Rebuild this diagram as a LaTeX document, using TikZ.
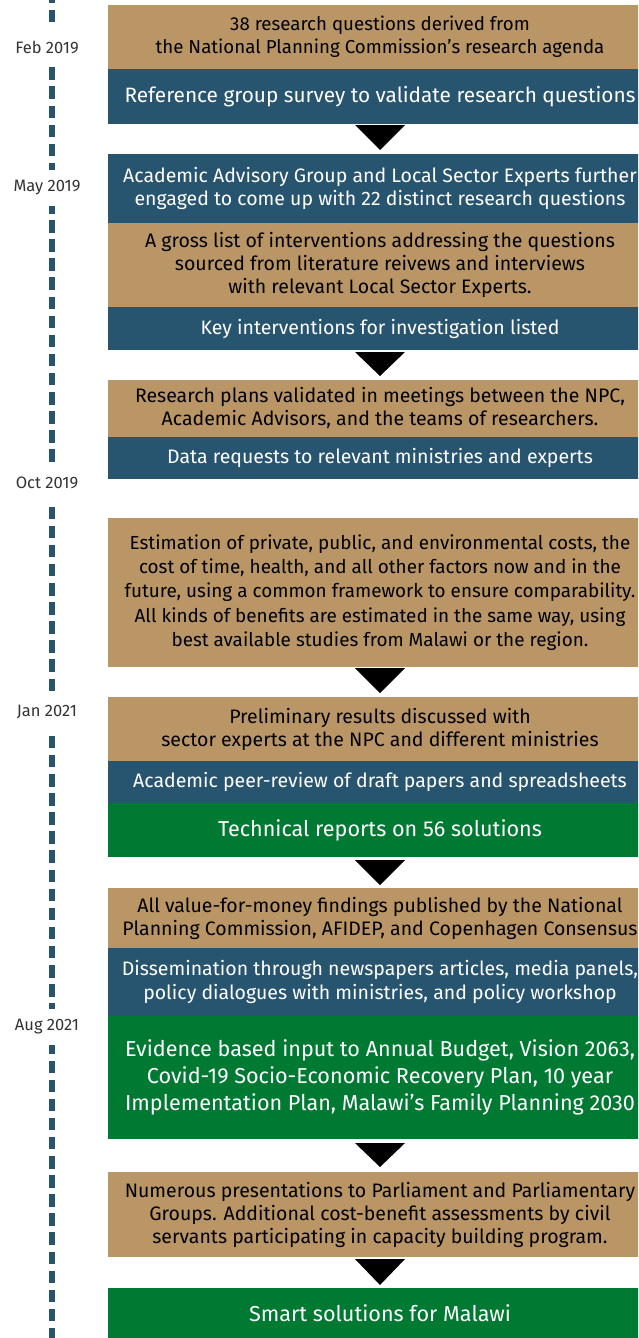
\documentclass[tikz,border=0pt]{standalone}
\usepackage{fontspec}
\setmainfont{Fira Sans}
\usetikzlibrary{calc}
\definecolor{tanc}{RGB}{186,150,102}
\definecolor{bluec}{RGB}{39,84,111}
\definecolor{greenc}{RGB}{0,122,51}
\definecolor{datec}{RGB}{51,51,51}
\begin{document}
\begin{tikzpicture}[x=1pt,y=-1pt,
  band/.style={anchor=north west, minimum width=544pt, inner sep=0pt, outer sep=0pt, align=center},
  tanbox/.style={band, fill=tanc, text=black, font=\fontsize{19.5}{23}\selectfont},
  bluebox/.style={band, fill=bluec, text=white, font=\fontsize{19.5}{22.5}\selectfont},
  greenbox/.style={band, fill=greenc, text=white, font=\fontsize{21.6}{27}\selectfont},
  datelbl/.style={fill=white, text=datec, font=\fontsize{16.5}{18}\selectfont, minimum height=36pt, inner xsep=1pt, inner ysep=0pt},
  timeline/.style={draw=bluec, line width=6pt, dash pattern=on 12.5pt off 6.6pt},
  tri/.style={fill=black}
]
\useasboundingbox (0,0) rectangle (638,1338);
\clip (0,0) rectangle (638,1338);

% timeline
\coordinate (tltop) at (52,-9.1);
\coordinate (tlbot) at (52,1350);
\draw[timeline] (tltop) -- (tlbot);

% boxes
\node[tanbox, minimum height=64pt, font=\fontsize{18.7}{23}\selectfont] (t1) at (108,5) {38 research questions derived from\\the National Planning Commission’s research agenda};
\node[bluebox, minimum height=55pt, font=\fontsize{20.8}{24}\selectfont] (b1) at (108,69) {Reference group survey to validate research questions};

\node[bluebox, minimum height=69pt, font=\fontsize{19.5}{22.5}\selectfont] (b2) at (108,154) {Academic Advisory Group and Local Sector Experts further\\engaged to come up with 22 distinct research questions};
\node[tanbox, minimum height=84pt] (t2) at (108,223) {A gross list of interventions addressing the questions\\sourced from literature reivews and interviews\\with relevant Local Sector Experts.};
\node[bluebox, minimum height=43pt] (b3) at (108,307) {Key interventions for investigation listed};

\node[tanbox, minimum height=57pt] (t3) at (108,380) {Research plans validated in meetings between the NPC,\\Academic Advisors, and the teams of researchers.};
\node[bluebox, minimum height=42pt] (b4) at (108,437) {Data requests to relevant ministries and experts};

\node[tanbox, minimum height=149pt, font=\fontsize{18.9}{24.2}\selectfont] (t4) at (108,518) {Estimation of private, public, and environmental costs, the\\cost of time, health, and all other factors now and in the\\future, using a common framework to ensure comparability.\\All kinds of benefits are estimated in the same way, using\\best available studies from Malawi or the region.};

\node[tanbox, minimum height=64pt] (t5) at (108,697) {Preliminary results discussed with\\sector experts at the NPC and different ministries};
\node[bluebox, minimum height=42pt] (b5) at (108,761) {Academic peer-review of draft papers and spreadsheets};
\node[greenbox, minimum height=54pt] (g1) at (108,803) {Technical reports on 56 solutions};

\node[tanbox, minimum height=60pt] (t6) at (108,888) {All value-for-money findings published by the National\\Planning Commission, AFIDEP, and Copenhagen Consensus};
\node[bluebox, minimum height=68pt, font=\fontsize{19.5}{24.3}\selectfont] (b6) at (108,948) {Dissemination through newspapers articles, media panels,\\policy dialogues with ministries, and policy workshop};
\node[greenbox, minimum height=123pt] (g2) at (108,1016) {Evidence based input to Annual Budget, Vision 2063,\\Covid-19 Socio-Economic Recovery Plan, 10 year\\Implementation Plan, Malawi’s Family Planning 2030};

\node[tanbox, minimum height=85pt] (t7) at (108,1172) {Numerous presentations to Parliament and Parliamentary\\Groups. Additional cost-benefit assessments by civil\\servants participating in capacity building program.};

\node[greenbox, minimum height=50pt] (g3) at (108,1288) {Smart solutions for Malawi};

% arrows
\fill[tri] ($(b1.south)+(-25,1)$) -- ($(b1.south)+(25,1)$) -- ($(b1.south)+(0,26)$) -- cycle;
\fill[tri] ($(b3.south)+(-25,2)$) -- ($(b3.south)+(25,2)$) -- ($(b3.south)+(0,26)$) -- cycle;
\fill[tri] ($(t4.south)+(-25,1)$) -- ($(t4.south)+(25,1)$) -- ($(t4.south)+(0,26)$) -- cycle;
\fill[tri] ($(g1.south)+(-25,3)$) -- ($(g1.south)+(25,3)$) -- ($(g1.south)+(0,28)$) -- cycle;
\fill[tri] ($(g2.south)+(-25,4)$) -- ($(g2.south)+(25,4)$) -- ($(g2.south)+(0,28)$) -- cycle;
\fill[tri] ($(t7.south)+(-25,2)$) -- ($(t7.south)+(25,2)$) -- ($(t7.south)+(0,28)$) -- cycle;

% dates
\node[datelbl] (d1) at (47,47) {Feb 2019};
\node[datelbl] (d2) at (47,188) {May 2019};
\node[datelbl] (d3) at (47,483) {Oct 2019};
\node[datelbl] (d4) at (47,712) {Jan 2021};
\node[datelbl] (d5) at (47,1027) {Aug 2021};
\end{tikzpicture}
\end{document}
